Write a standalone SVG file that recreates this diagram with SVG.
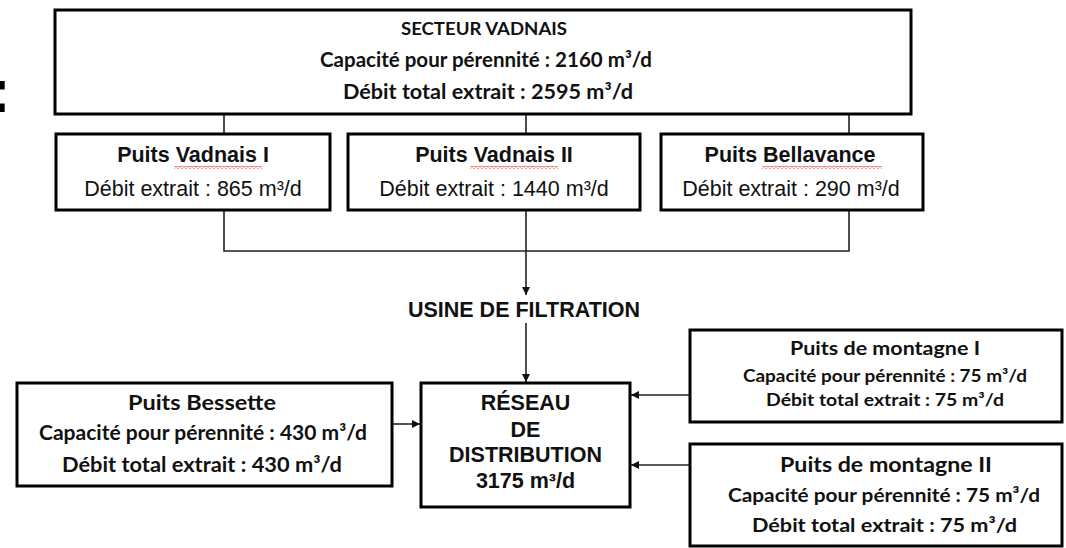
<svg xmlns="http://www.w3.org/2000/svg" width="1066" height="548" viewBox="0 0 1066 548">
<defs>
<style>
.box{fill:#fff;stroke:#000;stroke-width:3}
.con{fill:none;stroke:#222;stroke-width:1.6}
.ar{font-family:"Liberation Sans",Arial,sans-serif;fill:#111;text-anchor:middle}
.b{font-weight:bold}
.cal{font-family:Lato,"Liberation Sans",sans-serif;font-weight:bold;fill:#111;text-anchor:middle}
</style>
<marker id="arr" viewBox="0 0 10 10" refX="10" refY="5" markerWidth="8" markerHeight="8" markerUnits="userSpaceOnUse" orient="auto">
<path d="M0 0 L10 5 L0 10 Z" fill="#111"/>
</marker>
<pattern id="squig" width="4" height="3" patternUnits="userSpaceOnUse">
<path d="M0 2.5 L2 0.5 L4 2.5" stroke="#e00" stroke-width="0.9" fill="none"/>
</pattern>
</defs>

<text x="-10" y="112" font-family="Liberation Sans,Arial,sans-serif" font-weight="bold" font-size="62" fill="#000">:</text>

<g id="connectors">
<path class="con" d="M224 114 V134 M526 114 V134 M849 114 V134"/>
<path class="con" d="M224 210 V251 H849 V210"/>
<path class="con" d="M526 210 V295" marker-end="url(#arr)"/>
<path class="con" d="M526 323 V382" marker-end="url(#arr)"/>
<path class="con" d="M392 424 H420" marker-end="url(#arr)"/>
<path class="con" d="M690 395 H631" marker-end="url(#arr)"/>
<path class="con" d="M690 465 H631" marker-end="url(#arr)"/>
</g>

<g id="secteur-vadnais">
<rect class="box" x="55" y="10" width="856" height="104"/>
<text class="cal" x="484" y="35" font-size="16.5" textLength="166" lengthAdjust="spacingAndGlyphs">SECTEUR VADNAIS</text>
<text class="cal" x="486" y="67" font-size="20" textLength="332" lengthAdjust="spacingAndGlyphs">Capacité pour pérennité : 2160 m³/d</text>
<text class="cal" x="488" y="99" font-size="20" textLength="290" lengthAdjust="spacingAndGlyphs">Débit total extrait  :  2595 m³/d</text>
</g>

<g id="puits-vadnais-1">
<rect class="box" x="56" y="134" width="274" height="76"/>
<text class="ar b" x="193" y="162" font-size="21.5">Puits Vadnais I</text>
<rect x="174" y="166" width="88" height="3" fill="url(#squig)"/>
<text class="ar" x="193" y="196" font-size="21.5">Débit extrait : 865 m³/d</text>
</g>

<g id="puits-vadnais-2">
<rect class="box" x="348" y="134" width="292" height="76"/>
<text class="ar b" x="494" y="162" font-size="21.5">Puits Vadnais II</text>
<rect x="470" y="166" width="88" height="3" fill="url(#squig)"/>
<text class="ar" x="494" y="196" font-size="21.5">Débit extrait : 1440 m³/d</text>
</g>

<g id="puits-bellavance">
<rect class="box" x="661" y="134" width="262" height="76"/>
<text class="ar b" x="790" y="162" font-size="21.5">Puits Bellavance</text>
<rect x="762" y="166" width="120" height="3" fill="url(#squig)"/>
<text class="ar" x="791" y="196" font-size="21.5">Débit extrait : 290 m³/d</text>
</g>

<g id="usine">
<text class="ar b" x="524" y="317" font-size="21.5">USINE DE FILTRATION</text>
</g>

<g id="reseau">
<rect class="box" x="421" y="383" width="209" height="124"/>
<text class="ar b" x="525.5" y="410" font-size="21.5">RÉSEAU</text>
<text class="ar b" x="525.5" y="437" font-size="21.5">DE</text>
<text class="ar b" x="525.5" y="462" font-size="21.5">DISTRIBUTION</text>
<text class="ar b" x="525.5" y="488" font-size="21.5">3175 m³/d</text>
</g>

<g id="puits-bessette">
<rect class="box" x="17" y="383" width="375" height="103"/>
<text class="cal" x="202" y="410" font-size="21" textLength="148" lengthAdjust="spacingAndGlyphs">Puits Bessette</text>
<text class="cal" x="203" y="440" font-size="20" textLength="328" lengthAdjust="spacingAndGlyphs">Capacité pour pérennité : 430 m³/d</text>
<text class="cal" x="202" y="472" font-size="20" textLength="280" lengthAdjust="spacingAndGlyphs">Débit total extrait  :  430 m³/d</text>
</g>

<g id="puits-montagne-1">
<rect class="box" x="690" y="330" width="372" height="92"/>
<text class="cal" x="885" y="355" font-size="18.5" textLength="190" lengthAdjust="spacingAndGlyphs">Puits de montagne I</text>
<text class="cal" x="885" y="382" font-size="16.5" textLength="284" lengthAdjust="spacingAndGlyphs">Capacité pour  pérennité : 75 m³/d</text>
<text class="cal" x="885" y="406" font-size="16.5" textLength="238" lengthAdjust="spacingAndGlyphs">Débit total extrait : 75 m³/d</text>
</g>

<g id="puits-montagne-2">
<rect class="box" x="690" y="444" width="372" height="102"/>
<text class="cal" x="886" y="472" font-size="21" textLength="212" lengthAdjust="spacingAndGlyphs">Puits de montagne II</text>
<text class="cal" x="884" y="502" font-size="19.5" textLength="312" lengthAdjust="spacingAndGlyphs">Capacité pour pérennité : 75 m³/d</text>
<text class="cal" x="884.5" y="532" font-size="19.5" textLength="265" lengthAdjust="spacingAndGlyphs">Débit total extrait  :  75 m³/d</text>
</g>
</svg>
